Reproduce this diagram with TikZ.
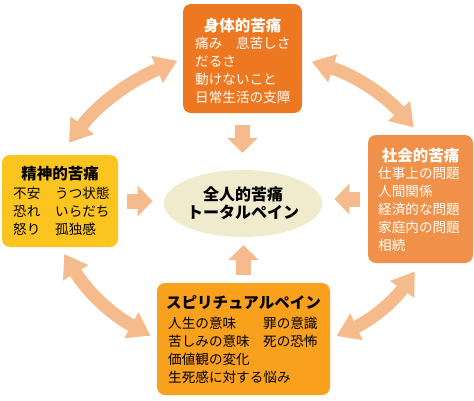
\documentclass[tikz,border=0pt]{standalone}
\usepackage{fontspec}
\setmainfont{Noto Sans CJK JP}
\usetikzlibrary{arrows.meta,shapes.geometric}

\definecolor{bodyorange}{RGB}{238,120,33}
\definecolor{socialorange}{RGB}{241,145,73}
\definecolor{mindyellow}{RGB}{252,196,30}
\definecolor{spiritorange}{RGB}{249,161,29}
\definecolor{arrowpeach}{RGB}{246,187,140}
\definecolor{centrecream}{RGB}{240,235,205}

\newcommand{\titlefont}{\fontsize{15.5}{18}\selectfont\bfseries}
\newcommand{\linefont}{\fontsize{13.6}{18}\selectfont}

\begin{document}
\begin{tikzpicture}[x=1pt, y=-1pt,
    painbox/.style={rectangle, rounded corners=8pt, inner sep=0pt},
    boxtitle/.style={anchor=base, inner sep=0pt, font=\titlefont},
    boxlines/.style={anchor=base west, inner sep=0pt, font=\linefont},
    push/.style={arrowpeach, line width=15pt, -{Triangle[width=30pt,length=15pt]}},
    swing/.style={arrowpeach, line width=13pt, {Triangle[width=28pt,length=22pt]}-{Triangle[width=28pt,length=22pt]}}]
    \useasboundingbox (0,0) rectangle (474,400);

    % the four boxes
    \node[painbox, fill=bodyorange, minimum width=119pt, minimum height=109pt] (body) at (242.5,58.5) {};
    \node[painbox, fill=mindyellow, minimum width=116pt, minimum height=92pt] (mind) at (60,201) {};
    \node[painbox, fill=socialorange, minimum width=105pt, minimum height=128pt] (social) at (420.5,199) {};
    \node[painbox, fill=spiritorange, minimum width=173pt, minimum height=112pt] (spirit) at (243.5,339) {};

    % centre
    \node[ellipse, fill=centrecream, minimum width=150pt, minimum height=67pt, inner sep=0pt,
          align=center, font=\fontsize{16}{18}\selectfont\bfseries] (total) at (243,203.5) {全人的苦痛\\トータルペイン};

    % texts
    \node[boxtitle, white] (bodytitle) at (242.5,31) {身体的苦痛};
    \node[boxlines, white] (bodytext) at (195,48) {\begin{tabular}[t]{@{}l@{}}痛み　息苦しさ\\だるさ\\動けないこと\\日常生活の支障\end{tabular}};

    \node[boxtitle] (mindtitle) at (60,179) {精神的苦痛};
    \node[boxlines] (mindtext) at (13,198) {\begin{tabular}[t]{@{}p{42pt}@{}l@{}}不安&うつ状態\\恐れ&いらだち\\怒り&孤独感\end{tabular}};

    \node[boxtitle, white] (socialtitle) at (420.5,161) {社会的苦痛};
    \node[boxlines, white] (socialtext) at (378,178) {\begin{tabular}[t]{@{}l@{}}仕事上の問題\\人間関係\\経済的な問題\\家庭内の問題\\相続\end{tabular}};

    \node[boxtitle] (spirittitle) at (243.5,308) {スピリチュアルペイン};
    \node[boxlines] (spirittext) at (168,328) {\begin{tabular}[t]{@{}p{95pt}@{}l@{}}人生の意味&罪の意識\\苦しみの意味&死の恐怖\\\multicolumn{2}{@{}l@{}}{価値観の変化}\\\multicolumn{2}{@{}l@{}}{生死感に対する悩み}\end{tabular}};

    % arrows into the centre
    \draw[push, shorten <=12pt, shorten >=17pt] (body.south) -- (body.south |- total.north);
    \draw[push, shorten <=9pt, shorten >=11pt] (mind.east) -- (mind.east -| total.west);
    \draw[push, shorten <=8pt, shorten >=12pt] (social.west) -- (social.west -| total.east);
    \draw[push, shorten <=8pt, shorten >=8pt] (spirit.north) -- (spirit.north |- total.south);

    % arrows round the ring
    \draw[swing, shorten <=15pt, shorten >=6pt] (mind.north) to[bend left=15] (body.west);
    \draw[swing, shorten <=10pt, shorten >=10pt] (body.east) to[bend left=15] (social.north);
    \draw[swing, shorten <=10pt, shorten >=7pt] (social.south) to[bend left=15] (spirit.east);
    \draw[swing, shorten <=7pt, shorten >=8pt] (spirit.west) to[bend left=15] (mind.south);
\end{tikzpicture}
\end{document}
